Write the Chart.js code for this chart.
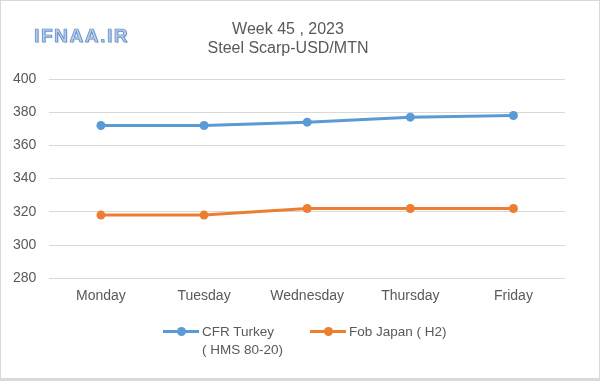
<!DOCTYPE html>
<html>
<head>
<meta charset="utf-8">
<script src="https://cdn.jsdelivr.net/npm/chart.js@4"></script>
<style>
    html, body { margin: 0; padding: 0; background: #fff; }
    .frame {
        position: relative;
        width: 598px;
        height: 377px;
        border: 1px solid #d9d9d9;
        border-bottom-width: 3px;
        background: #fff;
        font-family: "Liberation Sans", Arial, sans-serif;
        color: #595959;
        overflow: hidden;
    }
    .chart-wrap { position: absolute; left: -1px; top: -1px; width: 600px; height: 381px; }
    .logo {
        position: absolute; left: 33px; top: 24px;
        font-size: 19px; font-weight: bold; letter-spacing: 1.6px;
        color: #b3cdee;
        -webkit-text-stroke: 0.7px #5582c2;
        text-shadow: 1px 1px 1px rgba(90, 110, 140, 0.35);
    }
    .title {
        position: absolute; left: 187px; width: 200px; text-align: center;
        font-size: 16px; line-height: 19px; top: 18px;
    }
    .legend { position: absolute; top: 322px; left: 0; width: 600px; font-size: 13.5px; }
    .legend .item { position: absolute; display: flex; align-items: flex-start; }
    .legend .mark { position: relative; width: 36px; height: 18px; margin-right: 3px; }
    .legend .mark i { position: absolute; left: 0; right: 0; top: 7px; height: 3px; }
    .legend .mark b { position: absolute; left: 14px; top: 4px; width: 9px; height: 9px; border-radius: 50%; }
    .legend .txt { line-height: 18px; }
</style>
</head>
<body>
<div class="frame">
    <div class="chart-wrap"><canvas id="steelChart" width="600" height="381"></canvas></div>
    <div class="logo">IFNAA.IR</div>
    <div class="title" id="title"></div>
    <div class="legend" id="legend"></div>
</div>
<script>
    // Chart data
    const titleLines = ["Week 45  , 2023", "Steel Scarp-USD/MTN"];
    const days = ["Monday", "Tuesday", "Wednesday", "Thursday", "Friday"];
    const cfrTurkey = [372, 372, 374, 377, 378];
    const fobJapan = [318, 318, 322, 322, 322];
    const seriesNames = [["CFR Turkey", " ( HMS 80-20)"], ["Fob Japan ( H2)"]];
    const seriesColors = ["#5b9bd5", "#ed7d31"];
    const yTicks = [280, 300, 320, 340, 360, 380, 400];

    document.getElementById("title").innerHTML = titleLines.join("<br>");

    const fontTick = { family: "'Liberation Sans', Arial, sans-serif", size: 14 };

    const chart = new Chart(document.getElementById("steelChart"), {
        type: "line",
        data: {
            labels: days,
            datasets: [cfrTurkey, fobJapan].map((values, i) => ({
                label: seriesNames[i].join(" "),
                data: values,
                borderColor: seriesColors[i],
                backgroundColor: seriesColors[i],
                borderWidth: 3,
                pointRadius: 4.5,
                pointBorderWidth: 0,
                tension: 0,
            })),
        },
        options: {
            responsive: false,
            animation: false,
            layout: { padding: { top: 79, right: 35, bottom: 66, left: 0 } },
            plugins: {
                legend: { display: false },
                tooltip: { enabled: false },
            },
            scales: {
                x: {
                    offset: true,
                    grid: { display: false, drawTicks: false },
                    border: { display: false },
                    ticks: { color: "#595959", font: fontTick, padding: 10 },
                },
                y: {
                    min: yTicks[0],
                    max: yTicks[yTicks.length - 1],
                    afterBuildTicks: (axis) => {
                        axis.ticks = yTicks.map((v) => ({ value: v }));
                    },
                    grid: { color: "#d9d9d9", lineWidth: 1, drawTicks: false },
                    border: { display: false },
                    ticks: { color: "#595959", font: fontTick, padding: 13 },
                },
            },
        },
    });

    // Legend below the plot, built from the datasets
    const legendPos = [162, 309];
    const legend = document.getElementById("legend");
    chart.data.datasets.forEach((ds, i) => {
        const item = document.createElement("div");
        item.className = "item";
        item.style.left = legendPos[i] + "px";
        item.innerHTML =
            '<div class="mark"><i style="background:' + ds.borderColor + '"></i>' +
            '<b style="background:' + ds.borderColor + '"></b></div>' +
            '<div class="txt">' + seriesNames[i].join("<br>") + "</div>";
        legend.appendChild(item);
    });
</script>
</body>
</html>
